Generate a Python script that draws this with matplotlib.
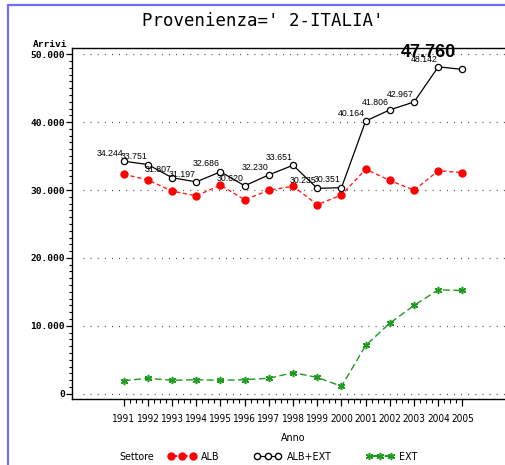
import matplotlib
matplotlib.use("Agg")
import matplotlib.pyplot as plt
from matplotlib import font_manager as fm
from matplotlib.ticker import FixedLocator, FuncFormatter
from matplotlib.lines import Line2D
from matplotlib.patches import Rectangle
import numpy as np

anni = [1991, 1992, 1993, 1994, 1995, 1996, 1997, 1998, 1999, 2000,
        2001, 2002, 2003, 2004, 2005]
alb_ext = [34244, 33751, 31807, 31197, 32686, 30620, 32230, 33651, 30235, 30351,
           40164, 41806, 42967, 48142, 47760]
alb = [32320, 31480, 29840, 29140, 30720, 28560, 29960, 30550, 27840, 29260,
       33060, 31410, 29970, 32840, 32560]
ext = [1920, 2270, 1970, 2060, 1970, 2060, 2270, 3100, 2400, 1090,
       7100, 10400, 13000, 15300, 15200]
y_ticks = [0, 10000, 20000, 30000, 40000, 50000]

# cerca un font stretto, altrimenti Liberation Sans piccolo
cond = [f for f in fm.fontManager.ttflist
        if ('Condensed' in f.name or 'Narrow' in f.name or
            str(f.stretch) in ('condensed', 'semi-condensed', 'extra-condensed'))
        and 'Bold' not in f.fname and 'Oblique' not in f.fname and 'Italic' not in f.fname]
if cond:
    narrow_fp = lambda size: fm.FontProperties(fname=cond[0].fname, size=size)
    nsize = 7.2
else:
    narrow_fp = lambda size: fm.FontProperties(family=['Liberation Sans', 'DejaVu Sans'], size=size)
    nsize = 6.6

mono = ['DejaVu Sans Mono']
sans = ['Liberation Sans', 'DejaVu Sans']

W, H = 506, 465
fig = plt.figure(figsize=(W / 100, H / 100), dpi=100)

# cornice blu
fig.patches.append(Rectangle((8 / W, -0.1), 1.2, 1 - 5 / H + 0.1, transform=fig.transFigure,
                             fill=False, edgecolor='#6f6fff', linewidth=1.6))

ax = fig.add_axes([72.3 / W, (H - 398.7) / H, (530 - 72.3) / W, (398.7 - 48.3) / H])
ax.set_xlim(1988.876, 2007.79)
ax.set_ylim(-736, 50870)

# griglia punteggiata
ax.hlines(y_ticks, 1989.3, 2008, colors='#333333', linestyles=(0, (0.7, 5)), linewidth=0.9)

ax.plot(anni, alb, color='#ff2020', linestyle=(0, (3, 2)), linewidth=1.0,
        marker='o', markersize=5.0, markerfacecolor='red', markeredgecolor='red', zorder=3)
ax.plot(anni, alb_ext, color='black', linewidth=0.9,
        marker='o', markersize=4.5, markerfacecolor='white', markeredgecolor='black',
        markeredgewidth=0.9, zorder=4)
ax.plot(anni, ext, color='#1e9a1e', linestyle=(0, (5, 2.5)), linewidth=1.0,
        marker=(6, 2, 0), markersize=5.2, markeredgecolor='#1e9a1e', markeredgewidth=1.1, zorder=3)

for i, (a, v) in enumerate(zip(anni, alb_ext)):
    lab = f"{v / 1000:.3f}"
    if i == len(anni) - 1:
        ax.annotate(lab, (a, v), xytext=(-4.5, 9), textcoords='offset points',
                    ha='right', va='baseline', fontsize=13, fontweight='bold',
                    family=sans, zorder=6)
    else:
        ax.annotate(lab, (a, v), xytext=(-0.5, 3.8), textcoords='offset points',
                    ha='right', va='baseline', fontsize=6.3, family=sans, zorder=5)

ax.spines['right'].set_visible(False)
for s in ['left', 'bottom', 'top']:
    ax.spines[s].set_linewidth(1.0)

ax.xaxis.set_major_locator(FixedLocator(anni))
ax.xaxis.set_minor_locator(FixedLocator(np.arange(anni[0], anni[-1] + 0.01, 0.25)))
ax.yaxis.set_major_locator(FixedLocator(y_ticks))
ax.yaxis.set_minor_locator(FixedLocator(np.arange(0, 50001, 1000)))
ax.yaxis.set_major_formatter(FuncFormatter(lambda v, p: "0" if v == 0 else f"{int(v):,}".replace(",", ".")))

ax.tick_params(axis='x', which='major', direction='out', length=5, width=0.9, pad=6)
ax.tick_params(axis='x', which='minor', direction='out', length=3, width=0.8)
ax.tick_params(axis='y', which='major', direction='out', length=4.5, width=0.9, pad=1)
ax.tick_params(axis='y', which='minor', direction='out', length=2.5, width=0.8)
for t in ax.get_xticklabels():
    t.set_fontproperties(narrow_fp(nsize))
for t in ax.get_yticklabels():
    t.set_family(mono)
    t.set_fontsize(6.8)
    t.set_fontweight('bold')

fig.text(263 / W, 1 - 21 / H, "Provenienza=' 2-ITALIA'", ha='center', va='center',
         fontsize=12.5, family=mono)
fig.text(50 / W, 1 - 44.5 / H, "Arrivi", ha='center', va='center', fontsize=6.8,
         family=mono, fontweight='bold')
fig.text(293 / W, 1 - 438 / H, "Anno", ha='center', va='center', fontproperties=narrow_fp(nsize + 0.5))
fig.text(137 / W, 1 - 457 / H, "Settore", ha='center', va='center', fontproperties=narrow_fp(nsize + 0.5))

handles = [
    Line2D([], [], color='#ff2020', linestyle=(0, (3, 2)), marker='o', markersize=5.0,
           markerfacecolor='red', markeredgecolor='red'),
    Line2D([], [], color='black', linewidth=0.9, marker='o', markersize=4.5,
           markerfacecolor='white', markeredgecolor='black'),
    Line2D([], [], color='#1e9a1e', linestyle=(0, (5, 2.5)), marker=(6, 2, 0), markersize=5.2,
           markeredgecolor='#1e9a1e', markeredgewidth=1.1),
]
leg = fig.legend(handles, ['ALB', 'ALB+EXT', 'EXT'], ncol=3, numpoints=3, frameon=False,
                 loc='center left', bbox_to_anchor=(168 / W, 1 - 457 / H),
                 handlelength=2.6, handletextpad=0.5, columnspacing=3.2,
                 borderpad=0, borderaxespad=0, prop=narrow_fp(nsize + 0.5))

plt.savefig('out.png', dpi=100)
